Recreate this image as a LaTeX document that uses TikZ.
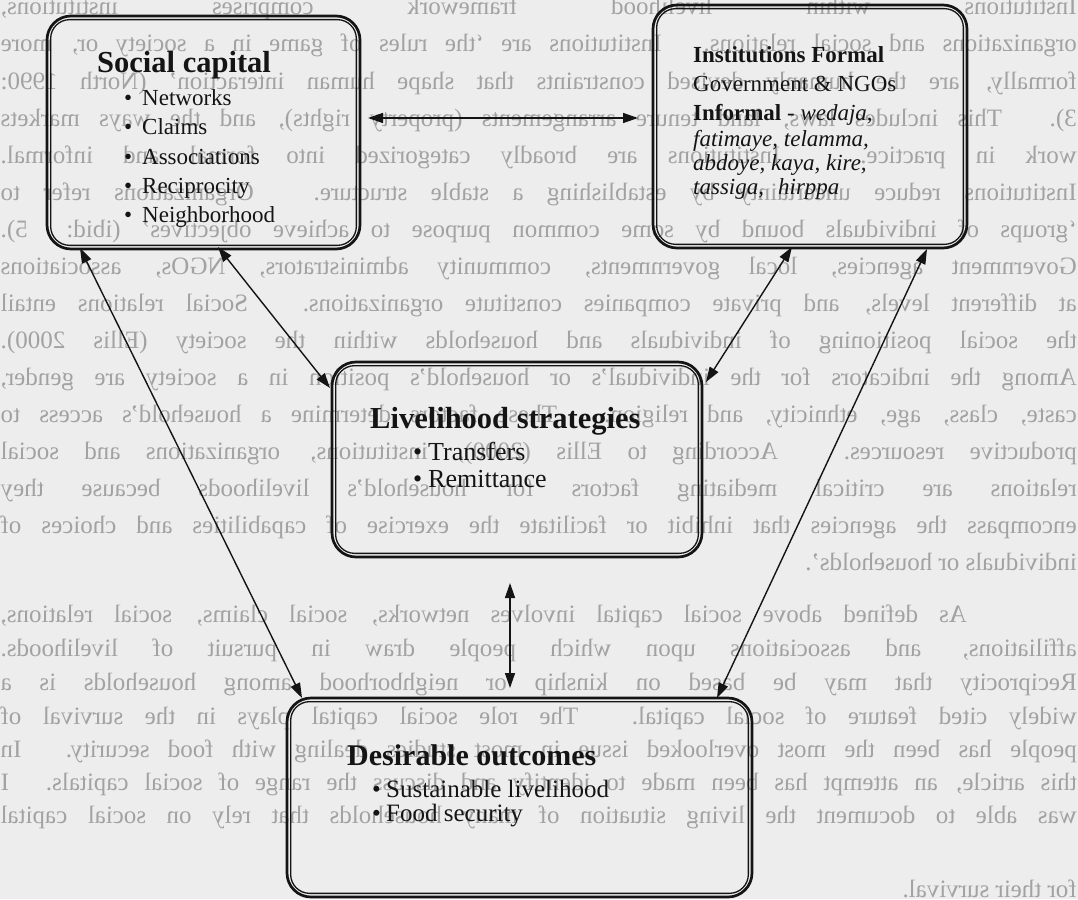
\documentclass[tikz,border=0pt]{standalone}
\usepackage{fontspec}
\setmainfont{Liberation Serif}
\usetikzlibrary{arrows.meta,calc}
\definecolor{paper}{HTML}{EDEDED}
\definecolor{bleed}{HTML}{A2A2A2}
\definecolor{ink}{HTML}{141414}
\newcommand{\fsz}[1]{\fontsize{#1}{#1}\selectfont}
\newcommand{\jl}[1]{\makebox[1076pt][s]{#1}}
\begin{document}
\begin{tikzpicture}[x=1pt,y=-1pt,
  bgline/.style={anchor=base west, inner sep=0pt, text=bleed, font=\fsz{25}, transform shape},
  frame/.style={draw=ink, line width=2.7pt, rounded corners=24pt, inner sep=0pt},
  innerframe/.style={draw=ink, line width=1.3pt, rounded corners=19pt},
  lbl/.style={anchor=base west, inner sep=0pt, text=ink},
  link/.style={draw=ink, line width=1.4pt, {Triangle[length=15pt,width=10pt]}-{Triangle[length=15pt,width=10pt]}},
]
\useasboundingbox (0,0) rectangle (1078,899);
\clip (0,0) rectangle (1078,899);
\fill[paper] (0,0) rectangle (1078,899);

% show-through text from the reverse side of the page (mirrored)
\begin{scope}[xshift=1078pt, xscale=-1]
\node[bgline] (b0) at (1,15) {\jl{Institutions within livelihood framework comprises institutions,}};
\node[bgline] (b1) at (1,52) {\jl{organizations and social relations. Institutions are `the rules of game in a society or, more}};
\node[bgline] (b2) at (1,89) {\jl{formally, are the humanly devised constraints that shape human interaction' (North 1990:}};
\node[bgline] (b3) at (1,126) {\jl{3). This includes laws, land tenure arrangements (property rights), and the ways markets}};
\node[bgline] (b4) at (1,163) {\jl{work in practice. Institutions are broadly categorized into formal and informal.}};
\node[bgline] (b5) at (1,200) {\jl{Institutions reduce uncertainty by establishing a stable structure. Organizations refer to}};
\node[bgline] (b6) at (1,237) {\jl{`groups of individuals bound by some common purpose to achieve objectives' (ibid: 5).}};
\node[bgline] (b7) at (1,274) {\jl{Government agencies, local governments, community administrators, NGOs, associations}};
\node[bgline] (b8) at (1,311) {\jl{at different levels, and private companies constitute organizations. Social relations entail}};
\node[bgline] (b9) at (1,348) {\jl{the social positioning of individuals and households within the society (Ellis 2000).}};
\node[bgline] (b10) at (1,385) {\jl{Among the indicators for the individual's or household's position in a society are gender,}};
\node[bgline] (b11) at (1,422) {\jl{caste, class, age, ethnicity, and religion. These factors determine a household's access to}};
\node[bgline] (b12) at (1,459) {\jl{productive resources. According to Ellis (2000), institutions, organizations and social}};
\node[bgline] (b13) at (1,496) {\jl{relations are critical mediating factors for household's livelihoods because they}};
\node[bgline] (b14) at (1,533) {\jl{encompass the agencies that inhibit or facilitate the exercise of capabilities and choices of}};
\node[bgline] (b15) at (1,570) {individuals or households'.};
\node[bgline] (b16) at (1,622) {\jl{\hspace*{110pt}As defined above social capital involves networks, social claims, social relations,}};
\node[bgline] (b17) at (1,656) {\jl{affiliations, and associations upon which people draw in pursuit of livelihoods.}};
\node[bgline] (b18) at (1,690) {\jl{Reciprocity that may be based on kinship or neighborhood among households is a}};
\node[bgline] (b19) at (1,724) {\jl{widely cited feature of social capital. The role social capital plays in the survival of}};
\node[bgline] (b20) at (1,757) {\jl{people has been the most overlooked issue in most studies dealing with food security. In}};
\node[bgline] (b21) at (1,790) {\jl{this article, an attempt has been made to identify and discuss the range of social capitals. I}};
\node[bgline] (b22) at (1,823) {\jl{was able to document the living situation of many households that rely on social capital}};
\node[bgline] (b23) at (1,897) {for their survival.};
\end{scope}

% boxes
\node[frame, minimum width=313pt, minimum height=233pt] (sc) at (203.5,132.5) {};
\node[frame, minimum width=314pt, minimum height=243pt] (inst) at (810,126.5) {};
\node[frame, minimum width=370pt, minimum height=195pt] (ls) at (517,459.5) {};
\node[frame, minimum width=465pt, minimum height=199pt] (do) at (519.5,797.5) {};
\foreach \b in {sc,inst,ls,do}{
  \draw[innerframe] ($(\b.north west)+(5pt,-5pt)$) rectangle ($(\b.south east)+(-5pt,5pt)$);
}

% Social capital
\node[lbl, font=\bfseries\fsz{30.5}] (sct) at (97,73) {Social capital};
\node[lbl, font=\fsz{23}] (sc1) at (124,105) {\makebox[18pt][l]{•}Networks};
\node[lbl, font=\fsz{23}] (sc2) at (124,134) {\makebox[18pt][l]{•}Claims};
\node[lbl, font=\fsz{23}] (sc3) at (124,164) {\makebox[18pt][l]{•}Associations};
\node[lbl, font=\fsz{23}] (sc4) at (124,193) {\makebox[18pt][l]{•}Reciprocity};
\node[lbl, font=\fsz{23}] (sc5) at (124,222) {\makebox[18pt][l]{•}Neighborhood};

% Institutions
\node[lbl, font=\bfseries\fsz{23}] (in1) at (693,63) {Institutions Formal};
\node[lbl, font=\fsz{23}] (in2) at (693,92) {Government \& NGOs};
\node[lbl, font=\fsz{23}] (in3) at (693,120) {\textbf{Informal} - \textit{wedaja},};
\node[lbl, font=\itshape\fsz{23}] (in4) at (693,146) {fatimaye, telamma,};
\node[lbl, font=\itshape\fsz{23}] (in5) at (693,170) {abdoye, kaya, kire,};
\node[lbl, font=\itshape\fsz{23}] (in6) at (693,194) {tassiga,\hspace{14pt}hirppa};

% Livelihood strategies
\node[lbl, font=\bfseries\fsz{30.5}] (lst) at (370,428) {Livelihood strategies};
\node[lbl, font=\fsz{26}] (ls1) at (413,460) {\makebox[15pt][l]{•}Transfers};
\node[lbl, font=\fsz{26}] (ls2) at (413,487) {\makebox[15pt][l]{•}Remittance};

% Desirable outcomes
\node[lbl, font=\bfseries\fsz{30}] (dot) at (347,765) {Desirable outcomes};
\node[lbl, font=\fsz{25}] (do1) at (372,797) {\makebox[14pt][l]{•}Sustainable livelihood};
\node[lbl, font=\fsz{25}] (do2) at (372,821) {\makebox[14pt][l]{•}Food security};

% connector end points on the frames
\coordinate (h1) at (368,118);
\coordinate (h2) at (638,118);
\coordinate (a1) at (80,248);
\coordinate (a2) at (302,698);
\coordinate (c1) at (218,247);
\coordinate (c2) at (330,388);
\coordinate (d1) at (792,247);
\coordinate (d2) at (706,382);
\coordinate (e1) at (927,249);
\coordinate (e2) at (717,698);
\coordinate (v1) at (510,583);
\coordinate (v2) at (510,688);

\draw[link] (h1) -- (h2);
\draw[link] (a1) -- (a2);
\draw[link] (c1) -- (c2);
\draw[link] (d1) -- (d2);
\draw[link] (e1) -- (e2);
\draw[link] (v1) -- (v2);
\end{tikzpicture}
\end{document}
